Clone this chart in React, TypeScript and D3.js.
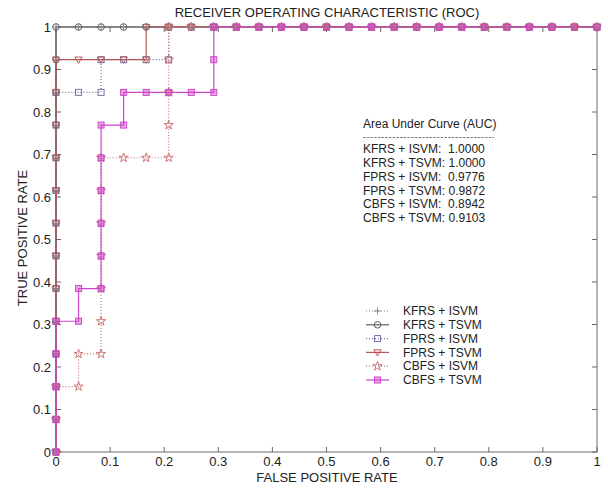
import React from 'react';
import * as d3 from 'd3';

// ROC points as [false positive count, true positive count]; 24 negatives, 13 positives
const NEG = 24;
const POS = 13;

const kfrsIsvm = [[0,0],[0,1],[0,2],[0,3],[0,4],[0,5],[0,6],[0,7],[0,8],[0,9],[0,10],[0,11],[0,12],[0,13],
  [1,13],[2,13],[3,13],[4,13],[5,13],[6,13],[7,13],[8,13],[9,13],[10,13],[11,13],[12,13],[13,13],[14,13],
  [15,13],[16,13],[17,13],[18,13],[19,13],[20,13],[21,13],[22,13],[23,13],[24,13]];
const kfrsTsvm = [[0,0],[0,1],[0,2],[0,3],[0,4],[0,5],[0,6],[0,7],[0,8],[0,9],[0,10],[0,11],[0,12],[0,13],
  [1,13],[2,13],[3,13],[4,13],[5,13],[6,13],[7,13],[8,13],[9,13],[10,13],[11,13],[12,13],[13,13],[14,13],
  [15,13],[16,13],[17,13],[18,13],[19,13],[20,13],[21,13],[22,13],[23,13],[24,13]];
const fprsIsvm = [[0,0],[0,1],[0,2],[0,3],[0,4],[0,5],[0,6],[0,7],[0,8],[0,9],[0,10],[0,11],
  [1,11],[2,11],[2,12],[3,12],[4,12],[5,12],[5,13],[6,13],[7,13],[8,13],[9,13],[10,13],[11,13],[12,13],
  [13,13],[14,13],[15,13],[16,13],[17,13],[18,13],[19,13],[20,13],[21,13],[22,13],[23,13],[24,13]];
const fprsTsvm = [[0,0],[0,1],[0,2],[0,3],[0,4],[0,5],[0,6],[0,7],[0,8],[0,9],[0,10],[0,11],[0,12],
  [1,12],[2,12],[3,12],[4,12],[4,13],[5,13],[6,13],[7,13],[8,13],[9,13],[10,13],[11,13],[12,13],[13,13],
  [14,13],[15,13],[16,13],[17,13],[18,13],[19,13],[20,13],[21,13],[22,13],[23,13],[24,13]];
const cbfsIsvm = [[0,0],[0,1],[0,2],[1,2],[1,3],[2,3],[2,4],[2,5],[2,6],[2,7],[2,8],[2,9],[3,9],[4,9],
  [5,9],[5,10],[5,11],[5,12],[5,13],[6,13],[7,13],[8,13],[9,13],[10,13],[11,13],[12,13],[13,13],[14,13],
  [15,13],[16,13],[17,13],[18,13],[19,13],[20,13],[21,13],[22,13],[23,13],[24,13]];
const cbfsTsvm = [[0,0],[0,1],[0,2],[0,3],[0,4],[1,4],[1,5],[2,5],[2,6],[2,7],[2,8],[2,9],[2,10],[3,10],
  [3,11],[4,11],[5,11],[6,11],[7,11],[7,12],[7,13],[8,13],[9,13],[10,13],[11,13],[12,13],[13,13],[14,13],
  [15,13],[16,13],[17,13],[18,13],[19,13],[20,13],[21,13],[22,13],[23,13],[24,13]];

const seriesNames = ['KFRS + ISVM', 'KFRS + TSVM', 'FPRS + ISVM', 'FPRS + TSVM', 'CBFS + ISVM', 'CBFS + TSVM'];
const aucValues = ['1.0000', '1.0000', '0.9776', '0.9872', '0.8942', '0.9103'];
const ticks = [0, 0.1, 0.2, 0.3, 0.4, 0.5, 0.6, 0.7, 0.8, 0.9, 1];

const styles = [
  { color: '#8c8c8c', dash: '1,2', marker: 'plus', fill: 'none' },
  { color: '#5e5e5e', dash: null, marker: 'circle', fill: 'none' },
  { color: '#7474a6', dash: '1,2', marker: 'square', fill: 'none' },
  { color: '#b85454', dash: null, marker: 'triangle', fill: 'none' },
  { color: '#cc7474', dash: '1,2', marker: 'star', fill: 'none' },
  { color: '#cf45cf', dash: null, marker: 'square', fill: 'rgba(200,70,190,0.45)' },
];

const allSeries = [kfrsIsvm, kfrsTsvm, fprsIsvm, fprsTsvm, cbfsIsvm, cbfsTsvm];

const FONT = '"Liberation Sans", Arial, sans-serif';

const starPath = d3.symbol().type(d3.symbolStar).size(26)();

function Marker({ type, cx, cy, color, fill }) {
  const common = { fill, stroke: color, strokeWidth: 1 };
  if (type === 'plus') {
    return <path d={`M${cx - 3.5},${cy}H${cx + 3.5}M${cx},${cy - 3.5}V${cy + 3.5}`} {...common} />;
  }
  if (type === 'circle') return <circle cx={cx} cy={cy} r={3.3} {...common} />;
  if (type === 'square') return <rect x={cx - 3} y={cy - 3} width={6} height={6} {...common} />;
  if (type === 'triangle') {
    return <path d={`M${cx - 3.6},${cy - 2.6}L${cx + 3.6},${cy - 2.6}L${cx},${cy + 3.6}Z`} {...common} />;
  }
  return <path d={starPath} transform={`translate(${cx},${cy})`} {...common} />;
}

export default function App() {
  const x = d3.scaleLinear().domain([0, 1]).range([56, 597]);
  const y = d3.scaleLinear().domain([0, 1]).range([452, 27]);
  const line = d3.line().x(d => x(d[0] / NEG)).y(d => y(d[1] / POS));
  const axisColor = '#6a6a6a';
  const tickFmt = d3.format('~g');

  return (
    <svg width={608} height={488} style={{ position: 'absolute', left: 0, top: 0, background: '#fff' }}
      fontFamily={FONT}>
      {/* ticks, inward on all four sides */}
      {ticks.map(t => (
        <g key={'t' + t} stroke={axisColor} strokeWidth={1}>
          <line x1={x(t)} x2={x(t)} y1={y(0)} y2={y(0) - 5} />
          <line x1={x(t)} x2={x(t)} y1={y(1)} y2={y(1) + 5} />
          <line x1={x(0)} x2={x(0) + 5} y1={y(t)} y2={y(t)} />
          <line x1={x(1)} x2={x(1) - 5} y1={y(t)} y2={y(t)} />
        </g>
      ))}
      <rect x={x(0)} y={y(1)} width={x(1) - x(0)} height={y(0) - y(1)} fill="none" stroke={axisColor} strokeWidth={1} />

      {ticks.map(t => (
        <text key={'xl' + t} x={x(t)} y={466} textAnchor="middle" fontSize={13} fill="#222">{tickFmt(t)}</text>
      ))}
      {ticks.map(t => (
        <text key={'yl' + t} x={51} y={y(t)} dy="0.35em" textAnchor="end" fontSize={13} fill="#222">{tickFmt(t)}</text>
      ))}

      {/* curves */}
      {allSeries.map((pts, i) => (
        <path key={'c' + i} d={line(pts)} fill="none" stroke={styles[i].color} strokeWidth={1.2}
          strokeDasharray={styles[i].dash || undefined} />
      ))}
      {allSeries.map((pts, i) => (
        <g key={'m' + i}>
          {pts.map((d, j) => (
            <Marker key={j} type={styles[i].marker} cx={x(d[0] / NEG)} cy={y(d[1] / POS)}
              color={styles[i].color} fill={styles[i].fill} />
          ))}
        </g>
      ))}

      <text x={327} y={17} textAnchor="middle" fontSize={13} fill="#222">RECEIVER OPERATING CHARACTERISTIC (ROC)</text>
      <text x={327} y={482} textAnchor="middle" fontSize={13} fill="#222">FALSE POSITIVE RATE</text>
      <text transform="translate(27,238) rotate(-90)" textAnchor="middle" fontSize={13} fill="#222">TRUE POSITIVE RATE</text>

      {/* AUC block */}
      <g fontSize={12} fill="#222">
        <text x={363} y={124} dy="0.35em">Area Under Curve (AUC)</text>
        <line x1={363} x2={494} y1={137.5} y2={137.5} stroke="#555" strokeWidth={0.8} strokeDasharray="2.5,1.2" />
        {seriesNames.map((n, i) => (
          <text key={'a' + i} x={363} y={149 + i * 13.8} dy="0.35em" xmlSpace="preserve">
            {n + ':' + (n.endsWith('ISVM') ? '  ' : ' ') + aucValues[i]}
          </text>
        ))}
      </g>

      {/* legend */}
      {seriesNames.map((n, i) => {
        const ly = 311 + i * 13.8;
        return (
          <g key={'l' + i}>
            <line x1={366} x2={389} y1={ly} y2={ly} stroke={styles[i].color} strokeWidth={1.2}
              strokeDasharray={styles[i].dash || undefined} />
            <Marker type={styles[i].marker} cx={377.5} cy={ly} color={styles[i].color} fill={styles[i].fill} />
            <text x={403} y={ly} dy="0.35em" fontSize={12} fill="#222">{n}</text>
          </g>
        );
      })}
    </svg>
  );
}
